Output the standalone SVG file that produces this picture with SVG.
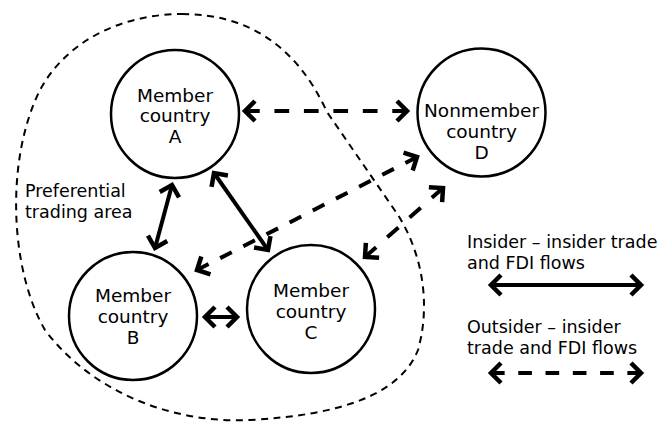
<svg xmlns="http://www.w3.org/2000/svg" width="662" height="424" viewBox="0 0 662 424">
<style>
.bg{fill:#fff}
.node{fill:none;stroke:#000;stroke-width:2.5}
.lbl{font-family:"DejaVu Sans","Liberation Sans",sans-serif;font-size:18.5px;fill:#000;text-anchor:middle}
.txt{font-family:"DejaVu Sans","Liberation Sans",sans-serif;font-size:17.5px;fill:#000}
.area{fill:none;stroke:#000;stroke-width:2;stroke-dasharray:7 5.5}
.solid{fill:none;stroke:#000;stroke-width:4;marker-start:url(#ah);marker-end:url(#ah)}
.dash{fill:none;stroke:#000;stroke-width:4;stroke-dasharray:1 1;marker-start:url(#ah);marker-end:url(#ah)}
</style>
<defs>
<marker id="ah" markerUnits="userSpaceOnUse" orient="auto-start-reverse" overflow="visible" markerWidth="1" markerHeight="1" refX="0" refY="0">
<path d="M -10 -10 L 0 0 L -10 10" fill="none" stroke="#000" stroke-width="4.5" stroke-dasharray="none"/>
</marker>
</defs>
<rect class="bg" x="0" y="0" width="662" height="424"/>
<g id="area">
<path class="area" d="M 182 14 Q 282 14 327 112 L 398 215 C 420 250 432 300 418 350 C 400 395 340 415 250 420 C 170 424 90 390 45 330 C 10 270 5 160 40 90 C 70 35 130 14 182 14 Z"/>
<text class="txt" x="25" y="197">Preferential</text>
<text class="txt" x="25" y="218">trading area</text>
</g>
<g id="connectors">
<line class="dash" x1="245" y1="111" x2="407" y2="111" pathLength="11"/>
<line class="solid" x1="172" y1="185" x2="155" y2="248"/>
<line class="solid" x1="214" y1="173" x2="268" y2="250"/>
<line class="solid" x1="205" y1="317" x2="237" y2="317"/>
<line class="dash" x1="197" y1="270" x2="417" y2="157" pathLength="19"/>
<line class="dash" x1="365" y1="257" x2="443" y2="188" pathLength="7"/>
</g>
<g id="nodeA">
<circle class="node" cx="175" cy="114" r="64"/>
<text class="lbl" x="175" y="101.5">Member</text>
<text class="lbl" x="175" y="122">country</text>
<text class="lbl" x="175" y="142.5">A</text>
</g>
<g id="nodeD">
<circle class="node" cx="481.5" cy="112.5" r="64"/>
<text class="lbl" x="481.5" y="117">Nonmember</text>
<text class="lbl" x="481.5" y="138">country</text>
<text class="lbl" x="481.5" y="159">D</text>
</g>
<g id="nodeB">
<circle class="node" cx="133" cy="316" r="64"/>
<text class="lbl" x="133" y="302">Member</text>
<text class="lbl" x="133" y="323">country</text>
<text class="lbl" x="133" y="344">B</text>
</g>
<g id="nodeC">
<circle class="node" cx="311" cy="309" r="64"/>
<text class="lbl" x="311" y="297">Member</text>
<text class="lbl" x="311" y="318">country</text>
<text class="lbl" x="311" y="339">C</text>
</g>
<g id="legend">
<text class="txt" x="467" y="248">Insider – insider trade</text>
<text class="txt" x="467" y="269">and FDI flows</text>
<line class="solid" x1="491" y1="285" x2="641" y2="285"/>
<text class="txt" x="467" y="333">Outsider – insider</text>
<text class="txt" x="467" y="354">trade and FDI flows</text>
<line class="dash" x1="491" y1="373" x2="641" y2="373" pathLength="11"/>
</g>
</svg>
